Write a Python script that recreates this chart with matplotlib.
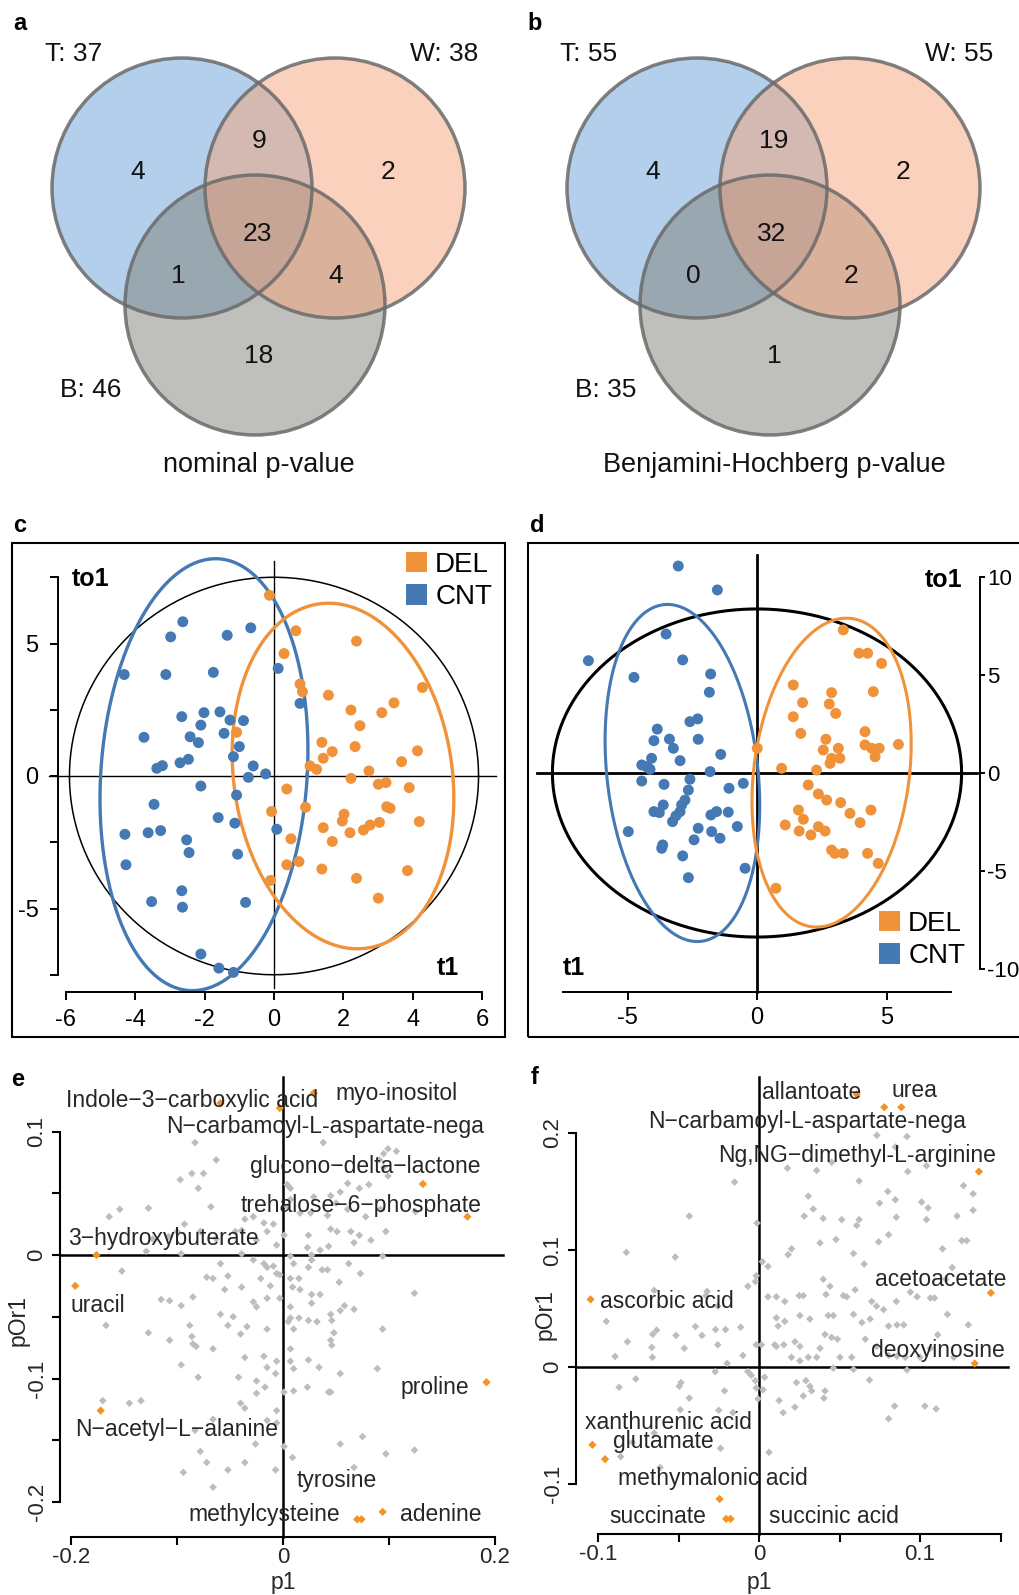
import numpy as np
import matplotlib
matplotlib.use('Agg')
import matplotlib.pyplot as plt
from matplotlib.patches import Circle, Rectangle, Patch

plt.rcParams['font.family'] = ['Liberation Sans', 'DejaVu Sans']
plt.rcParams['axes.unicode_minus'] = False

W, H = 1019, 1595

# ---------------- data ----------------
# Venn diagrams (T, W, B)
venn_a_totals = [37, 38, 46]
venn_a_counts = {'T': 4, 'W': 2, 'B': 18, 'TW': 9, 'TB': 1, 'WB': 4, 'TWB': 23}
venn_b_totals = [55, 55, 35]
venn_b_counts = {'T': 4, 'W': 2, 'B': 1, 'TW': 19, 'TB': 0, 'WB': 2, 'TWB': 32}

# panel c scores (t1, to1)
c_cnt = [(-2.63, 5.82), (-2.98, 5.25), (-1.35, 5.31), (-0.67, 5.59), (-4.32, 3.83), (-3.12, 3.83),
         (-1.75, 3.91), (0.12, 4.06), (0.75, 2.74), (-2.66, 2.24), (-2.02, 2.39), (-1.56, 2.42),
         (-2.11, 1.92), (-1.27, 2.11), (-0.88, 2.09), (-3.75, 1.46), (-2.42, 1.48), (-2.18, 1.26),
         (-1.44, 1.61), (-1.00, 1.11), (-1.17, 0.73), (-0.60, 0.38), (-0.74, -0.05), (-0.24, 0.08),
         (-3.38, 0.29), (-3.22, 0.39), (-2.71, 0.50), (-2.47, 0.63), (-2.11, -0.38), (-1.08, -0.72),
         (-3.46, -1.07), (-1.61, -1.57), (-1.13, -1.78), (0.08, -2.01), (-4.30, -2.20), (-3.63, -2.14),
         (-3.27, -2.06), (-2.52, -2.41), (-2.45, -2.89), (-1.05, -2.95), (-4.27, -3.35), (-2.66, -4.33),
         (-3.53, -4.74), (-2.64, -4.95), (-0.82, -4.77), (-2.11, -6.72), (-1.59, -7.25), (-1.17, -7.41)]
c_del = [(-0.13, 6.82), (0.63, 5.48), (0.29, 4.62), (2.38, 5.09), (0.75, 3.47), (0.82, 3.18),
         (1.57, 3.05), (4.28, 3.34), (2.22, 2.49), (3.11, 2.39), (3.46, 2.76), (2.48, 1.90),
         (-1.08, 1.65), (1.38, 1.27), (2.34, 1.11), (4.14, 0.95), (1.68, 0.92), (1.42, 0.67),
         (3.68, 0.54), (1.04, 0.38), (1.23, 0.25), (2.74, 0.19), (2.22, -0.09), (3.01, -0.31),
         (3.23, -0.25), (3.90, -0.44), (0.37, -0.49), (0.91, -1.18), (-0.07, -1.34), (3.25, -1.16),
         (3.35, -1.22), (2.02, -1.44), (1.97, -1.70), (1.42, -1.95), (2.19, -2.14), (2.58, -2.04),
         (2.77, -1.85), (3.04, -1.75), (4.19, -1.72), (0.49, -2.37), (1.68, -2.47), (0.37, -3.35),
         (0.72, -3.23), (1.38, -3.51), (2.38, -3.86), (3.85, -3.57), (-0.10, -3.94), (3.01, -4.61)]
# ellipses: centre x, centre y, half width, half height, shear
c_ell_cnt = (-2.02, 0.05, 2.98, 8.15, 0.335)
c_ell_del = (1.99, 0.0, 3.17, 6.52, -0.415)
c_t2 = (0.0, 0.0, 5.9, 7.5, 0.0)

# panel d scores
d_cnt = [(-3.04, 10.56), (-1.53, 9.34), (-6.51, 5.73), (-3.51, 7.09), (-2.87, 5.77), (-4.75, 4.88),
         (-1.79, 5.05), (-1.84, 4.12), (-2.59, 2.62), (-2.29, 2.76), (-3.85, 2.24), (-3.98, 1.65),
         (-3.38, 1.73), (-3.23, 1.26), (-2.27, 1.72), (-1.40, 0.95), (-2.97, 0.63), (-4.45, 0.41),
         (-4.26, 0.32), (-4.07, 0.75), (-4.13, 0.19), (-1.81, 0.07), (-4.45, -0.41), (-3.59, -0.58),
         (-2.59, -0.32), (-2.65, -0.87), (-0.53, -0.53), (-1.08, -0.78), (-2.78, -1.38), (-2.91, -1.63),
         (-3.62, -1.63), (-3.98, -1.97), (-3.77, -2.02), (-2.97, -1.97), (-3.13, -2.19), (-3.26, -2.48),
         (-1.78, -2.14), (-1.56, -1.97), (-1.11, -2.00), (-2.27, -2.82), (-1.75, -2.99), (-1.43, -3.33),
         (-0.76, -2.73), (-4.97, -2.99), (-2.43, -3.41), (-3.64, -3.67), (-3.68, -3.84), (-2.87, -4.23),
         (-0.46, -4.86), (-2.65, -5.34)]
d_del = [(3.33, 7.30), (3.94, 6.11), (4.27, 6.11), (4.81, 5.59), (1.40, 4.49), (2.88, 4.10),
         (1.76, 3.59), (2.79, 3.52), (3.04, 3.04), (4.49, 4.15), (1.40, 2.87), (1.69, 2.02),
         (4.17, 2.11), (4.17, 1.43), (2.66, 1.72), (2.56, 1.17), (3.14, 1.26), (2.88, 0.75),
         (3.20, 0.75), (2.82, 0.49), (4.43, 1.26), (4.72, 1.26), (4.56, 0.83), (5.46, 1.46),
         (0.01, 1.26), (0.95, 0.24), (2.30, 0.15), (1.98, -0.61), (2.37, -1.07), (2.69, -1.38),
         (3.23, -1.51), (3.59, -2.06), (3.98, -2.53), (4.40, -1.89), (1.60, -1.89), (1.79, -2.36),
         (1.09, -2.65), (1.63, -2.96), (2.08, -3.16), (2.37, -2.74), (2.63, -2.96), (2.88, -3.93),
         (3.01, -4.10), (3.33, -4.10), (4.27, -4.10), (4.68, -4.61), (0.73, -5.88)]
d_ell_cnt = (-2.88, 0.0, 2.93, 8.6, -0.575)
d_ell_del = (2.88, 0.02, 3.02, 7.88, 0.575)
d_t2 = (0.0, 0.0, 7.9, 8.37, 0.0)

# panel e loadings (p1, pOr1)
e_gray = [(-0.083, 0.091), (-0.063, 0.077), (-0.097, 0.061), (-0.086, 0.066), (-0.075, 0.066), (-0.080, 0.054),
          (-0.127, 0.038), (-0.068, 0.039), (0.038, 0.091), (0.099, 0.086), (0.107, 0.084), (0.095, 0.082),
          (0.091, 0.077), (0.095, 0.071), (0.099, 0.064), (0.061, 0.058), (0.072, 0.054), (0.081, 0.057),
          (0.054, 0.051), (0.007, 0.054), (0.004, 0.057), (0.029, 0.047), (0.045, 0.048), (0.050, 0.042),
          (0.007, 0.045), (0.004, 0.039), (0.016, 0.034), (0.026, 0.034), (0.042, 0.032), (0.061, 0.037),
          (0.078, 0.031), (0.125, 0.035), (0.092, 0.037), (-0.028, 0.031), (-0.036, 0.029), (-0.018, 0.026),
          (-0.009, 0.025), (-0.093, 0.025), (-0.015, 0.019), (-0.025, 0.012), (0.001, 0.016), (0.024, 0.016),
          (0.045, 0.021), (0.051, 0.019), (0.064, 0.019), (0.072, 0.016), (0.083, 0.012), (0.097, 0.019),
          (0.067, 0.010), (0.043, 0.007), (0.035, 0.004), (0.023, 0.006), (-0.006, 0.008), (-0.039, 0.020),
          (-0.045, 0.019), (-0.063, 0.013), (-0.078, 0.019), (-0.100, 0.019), (-0.108, 0.015), (-0.123, 0.013),
          (-0.129, 0.003), (-0.164, 0.031), (-0.154, 0.037), (-0.096, 0.001), (-0.039, 0.001), (0.094, -0.001),
          (0.027, 0.0), (0.007, -0.001), (0.010, -0.007), (-0.028, -0.004), (-0.018, -0.007), (-0.015, -0.010),
          (-0.009, -0.009), (-0.006, -0.015), (-0.021, -0.019), (-0.012, -0.025), (-0.003, -0.016), (0.007, -0.019),
          (0.015, -0.019), (0.024, -0.010), (0.027, -0.004), (0.037, -0.012), (0.042, -0.012), (0.053, -0.022),
          (0.073, -0.015), (0.062, -0.007), (-0.072, -0.018), (-0.066, -0.019), (-0.052, -0.017), (-0.059, -0.007),
          (-0.152, -0.013), (-0.115, -0.036), (-0.107, -0.037), (-0.096, -0.041), (-0.085, -0.034), (-0.055, -0.028),
          (-0.039, -0.026), (-0.028, -0.038), (-0.025, -0.042), (-0.015, -0.035), (-0.003, -0.035), (0.009, -0.026),
          (0.016, -0.028), (0.027, -0.032), (0.035, -0.032), (0.027, -0.039), (0.058, -0.041), (0.067, -0.044),
          (0.124, -0.031), (0.007, -0.042), (0.007, -0.051), (0.015, -0.051), (0.024, -0.053), (0.032, -0.054),
          (0.045, -0.048), (0.046, -0.053), (0.054, -0.045), (0.010, -0.060), (0.005, -0.054), (-0.015, -0.060),
          (-0.034, -0.058), (-0.040, -0.064), (-0.047, -0.050), (-0.059, -0.048), (-0.052, -0.057), (-0.088, -0.057),
          (-0.086, -0.066), (-0.085, -0.072), (-0.107, -0.069), (-0.127, -0.063), (-0.167, -0.057), (-0.096, -0.089),
          (-0.082, -0.074), (-0.066, -0.076), (-0.036, -0.083), (-0.018, -0.082), (-0.015, -0.091), (-0.006, -0.086),
          (-0.007, -0.096), (0.007, -0.086), (0.010, -0.092), (0.007, -0.076), (0.024, -0.085), (0.034, -0.091),
          (0.045, -0.069), (0.046, -0.073), (0.048, -0.063), (0.089, -0.092), (0.094, -0.060), (-0.080, -0.099),
          (-0.042, -0.099), (-0.025, -0.102), (-0.017, -0.107), (-0.025, -0.112), (0.001, -0.111), (0.010, -0.110),
          (0.023, -0.107), (0.045, -0.111), (0.054, -0.096), (-0.040, -0.120), (-0.036, -0.124), (-0.006, -0.126),
          (-0.006, -0.136), (-0.066, -0.133), (-0.083, -0.142), (-0.078, -0.159), (-0.072, -0.168), (-0.036, -0.168),
          (-0.052, -0.174), (-0.094, -0.176), (-0.066, -0.188), (-0.026, -0.153), (-0.015, -0.134), (0.001, -0.155),
          (0.009, -0.164), (-0.007, -0.174), (0.054, -0.153), (0.075, -0.147), (0.067, -0.172), (0.097, -0.161),
          (0.124, -0.158), (-0.170, -0.118), (-0.145, -0.120), (-0.134, -0.118), (0.043, -0.111)]
e_names = ['Indole\u22123\u2212carboxylic acid', 'N\u2212carbamoyl-L-aspartate-nega', 'myo-inositol',
           'glucono\u2212delta\u2212lactone', 'trehalose\u22126\u2212phosphate', '3\u2212hydroxybuterate',
           'uracil', 'proline', 'N\u2212acetyl\u2212L\u2212alanine', 'methylcysteine', 'tyrosine', 'adenine']
e_hit_x = [-0.059, -0.003, 0.029, 0.132, 0.174, -0.176, -0.196, 0.192, -0.172, 0.070, 0.074, 0.094]
e_hit_y = [0.123, 0.119, 0.131, 0.0575, 0.031, 0.0, -0.025, -0.103, -0.126, -0.214, -0.214, -0.208]
e_label_xy = [(-0.086, 0.1255), (0.040, 0.104), (0.107, 0.131), (0.078, 0.0715), (0.074, 0.0403),
              (-0.113, 0.0131), (-0.175, -0.041), (0.143, -0.107), (-0.1005, -0.141), (-0.018, -0.210),
              (0.051, -0.1825), (0.149, -0.210)]

# panel f loadings
f_gray = [(0.0732, 0.198), (0.0919, 0.197), (0.0451, 0.175), (0.0847, 0.188), (0.0924, 0.167), (0.104, 0.172),
          (0.0177, 0.170), (0.0358, 0.168), (-0.0152, 0.158), (0.0622, 0.159), (0.0306, 0.146), (0.080, 0.150),
          (0.0749, 0.140), (0.0847, 0.143), (0.101, 0.141), (0.105, 0.136), (0.127, 0.155), (0.133, 0.148),
          (0.133, 0.134), (0.123, 0.129), (0.104, 0.126), (0.0853, 0.128), (0.0337, 0.135), (0.0281, 0.129),
          (0.0399, 0.127), (-0.0433, 0.129), (0.0514, 0.126), (0.0622, 0.126), (0.0607, 0.121), (-0.0012, 0.123),
          (0.0805, 0.113), (0.0743, 0.107), (0.0478, 0.109), (0.0379, 0.106), (0.0587, 0.097), (0.0653, 0.088),
          (0.0202, 0.101), (0.0181, 0.096), (0.114, 0.101), (0.126, 0.108), (0.129, 0.108), (-0.0824, 0.098),
          (-0.052, 0.094), (0.0021, 0.090), (0.0056, 0.086), (-0.0017, 0.078), (-0.0023, 0.073), (-0.0069, 0.069),
          (0.120, 0.085), (0.116, 0.075), (0.0399, 0.075), (0.0441, 0.069), (0.0597, 0.066), (0.094, 0.064),
          (0.0982, 0.060), (0.1065, 0.059), (0.109, 0.059), (-0.0651, 0.0655), (-0.0322, 0.0646), (-0.0256, 0.052),
          (-0.0329, 0.061), (0.0056, 0.060), (0.0108, 0.060), (0.016, 0.056), (0.025, 0.061), (0.0275, 0.061),
          (0.0416, 0.062), (0.0524, 0.061), (0.0545, 0.060), (0.070, 0.056), (0.073, 0.052), (0.0774, 0.049),
          (0.0853, 0.056), (0.0587, 0.045), (0.0462, 0.044), (0.043, 0.044), (0.0254, 0.044), (0.0108, 0.042),
          (0.016, 0.039), (0.0119, 0.035), (0.0316, 0.041), (0.0639, 0.038), (0.069, 0.041), (0.0805, 0.035),
          (0.0857, 0.036), (0.0899, 0.036), (0.117, 0.045), (0.130, 0.036), (0.111, 0.0275), (-0.0948, 0.039),
          (-0.066, 0.028), (-0.0636, 0.0315), (-0.0395, 0.0346), (-0.0354, 0.027), (-0.027, 0.032), (-0.0208, 0.032),
          (-0.0114, 0.034), (-0.0516, 0.027), (-0.0464, 0.016), (-0.0817, 0.0216), (-0.0894, 0.009), (-0.0666, 0.0167),
          (-0.0662, 0.0083), (-0.0256, 0.019), (-0.0017, 0.019), (0.0015, 0.019), (0.0098, 0.019), (0.0108, 0.0176),
          (0.0154, 0.019), (0.0223, 0.0216), (0.0254, 0.0176), (0.0202, 0.0083), (0.0254, 0.0053), (0.0306, 0.0083),
          (0.0358, 0.0083), (0.0379, 0.016), (0.041, 0.0278), (0.0451, 0.0253), (0.0487, 0.0238), (0.0503, 0.0083),
          (0.0576, 0.0083), (0.0587, -0.002), (0.0462, -0.001), (0.066, 0.0238), (0.0732, 0.0176), (0.0805, 0.0099),
          (0.0857, 0.0093), (0.0919, -0.0025), (0.0909, 0.0083), (0.100, 0.0083), (0.1065, 0.016), (0.121, 0.0083),
          (-0.010, 0.0099), (-0.0069, -0.004), (-0.0048, -0.0071), (-0.0023, -0.0117), (0.0035, -0.0087),
          (-0.0017, -0.0179), (0.0025, -0.0195), (-0.0006, -0.0272), (-0.0272, -0.004), (-0.0198, 0.0031),
          (-0.0214, -0.0204), (-0.0485, -0.0133), (-0.0495, -0.0164), (-0.0433, -0.0266), (-0.0765, -0.0102),
          (-0.0869, -0.0173), (-0.0489, -0.0365), (-0.025, -0.037), (-0.0162, -0.039), (0.0125, -0.0287),
          (0.015, -0.039), (0.0223, -0.0343), (0.0233, -0.0133), (0.0275, -0.0247), (0.0316, -0.0164),
          (0.0291, -0.0117), (0.0327, -0.0204), (0.041, -0.0204), (0.0403, -0.0266), (0.0686, -0.0111),
          (0.0805, -0.0442), (0.0842, -0.0334), (0.103, -0.0334), (0.110, -0.0358), (-0.0786, -0.0643),
          (-0.0859, -0.0766), (-0.0651, -0.0565), (-0.0614, -0.0859), (-0.0239, -0.0695), (0.0062, -0.0729)]
f_names = ['allantoate', 'urea', 'N\u2212carbamoyl-L-aspartate-nega', 'Ng,NG\u2212dimethyl-L-arginine',
           'acetoacetate', 'deoxyinosine', 'ascorbic acid', 'xanthurenic acid', 'glutamate',
           'methymalonic acid', 'succinate', 'succinic acid']
f_hit_x = [0.0607, 0.0884, 0.0778, 0.1366, 0.144, 0.134, -0.1046, -0.1035, -0.0956, -0.0245, -0.0204, -0.0177]
f_hit_y = [0.233, 0.222, 0.222, 0.167, 0.0634, 0.003, 0.0578, -0.0665, -0.0788, -0.1128, -0.1298, -0.1298]
f_label_xy = [(0.0326, 0.235), (0.0965, 0.236), (0.0297, 0.210), (0.0609, 0.181), (0.113, 0.0748),
              (0.111, 0.0145), (-0.0574, 0.0563), (-0.0565, -0.0473), (-0.0593, -0.0637), (-0.0287, -0.0952),
              (-0.0628, -0.1277), (0.0464, -0.1277)]

# ---------------- styles ----------------
ORANGE = '#F0923A'
BLUE = '#4479B3'
HIT = '#F39322'
GRAY = '#BDBDBD'
TXT = '#262626'

fig = plt.figure(figsize=(W / 100, H / 100), dpi=100)


def fx(x):
    return x / W


def fy(y):
    return 1 - y / H


def axes_px(L, T, R, B):
    return fig.add_axes([L / W, 1 - B / H, (R - L) / W, (B - T) / H])


def fit(ax, box, x0, sx, y0, sy):
    L, T, R, B = box
    ax.set_xlim((L - x0) / sx, (R - x0) / sx)
    ax.set_ylim((y0 - B) / sy, (y0 - T) / sy)


def ellipse_line(ax, p, color, lw):
    cx, cy, a, b, sh = p
    t = np.linspace(0, 2 * np.pi, 300)
    ax.plot(cx + a * np.cos(t) + sh * np.sin(t), cy + b * np.sin(t), color=color, lw=lw)


def fmt(v):
    return f'{v:g}'


# ---------------- Venn panels ----------------
circ_xy = [(182, 188), (335, 188), (255, 305)]
circ_r = 130
circ_fill = ['#69A1D9', '#F5A57D', '#818179']
draw_order = [0, 2, 1]          # blue, grey, then orange on top
region_xy = {'T': (138, 172), 'TW': (259, 141), 'W': (388, 172), 'TWB': (257, 234),
             'TB': (178, 276), 'WB': (336, 276), 'B': (259, 356)}
set_xy = [(74, 54), (444, 54), (91, 390)]


def venn(off, letter, totals, counts, title):
    ax = axes_px(off, 0, off + 510, 485)
    ax.set_xlim(0, 510)
    ax.set_ylim(485, 0)
    ax.set_axis_off()
    for i in draw_order:
        ax.add_patch(Circle(circ_xy[i], circ_r, facecolor=circ_fill[i], alpha=0.5, edgecolor='none'))
    for (cx, cy) in circ_xy:
        ax.add_patch(Circle((cx, cy), circ_r, fill=False, edgecolor='#6A6A6A', alpha=0.85, lw=2.5))
    for k, v in counts.items():
        ax.text(*region_xy[k], str(v), ha='center', va='center', fontsize=19, color='#111111')
    for name, (x, y), n in zip(['T', 'W', 'B'], set_xy, totals):
        ax.text(x, y, f'{name}: {n}', ha='center', va='center', fontsize=19, color='#111111')
    ax.text(259, 465, title, ha='center', va='center', fontsize=19.5, color='#111111')
    fig.text(fx(off + 20), fy(24), letter, fontsize=17, fontweight='bold', ha='center', va='center')


venn(0, 'a', venn_a_totals, venn_a_counts, 'nominal p-value')
venn(515, 'b', venn_b_totals, venn_b_counts, 'Benjamini-Hochberg p-value')


# ---------------- score plots ----------------
def score_style(ax):
    for s in ax.spines.values():
        s.set_visible(False)
    ax.tick_params(labelsize=17, width=1.4, length=6, colors='black')


def group_legend(ax, left, top):
    ax.legend(handles=[Patch(facecolor=ORANGE, label='DEL'), Patch(facecolor=BLUE, label='CNT')],
              loc='upper left', bbox_to_anchor=(fx(left), fy(top)), bbox_transform=fig.transFigure,
              frameon=False, fontsize=20, handlelength=0.75, handleheight=0.75, handletextpad=0.3,
              labelspacing=0.22, borderpad=0, borderaxespad=0)


# panel c
box_c = (12, 543, 505, 1037)
axc = axes_px(*box_c)
fit(axc, box_c, 274, 34.67, 776, 26.5)
score_style(axc)
axc.add_patch(Rectangle((0, 0), 1, 1, transform=axc.transAxes, fill=False, lw=1.5, clip_on=False))
axc.spines['left'].set_visible(True)
axc.spines['bottom'].set_visible(True)
for s in ('left', 'bottom'):
    axc.spines[s].set_linewidth(1.4)
axc.spines['left'].set_position(('data', (58 - 274) / 34.67))
axc.spines['left'].set_bounds(-7.5, 7.5)
axc.spines['bottom'].set_position(('data', (776 - 992) / 26.5))
axc.spines['bottom'].set_bounds(-6, 6)
xt = [-6, -4, -2, 0, 2, 4, 6]
axc.set_xticks(xt, [fmt(v) for v in xt])
axc.set_yticks([-5, 0, 5], ['-5', '0', '5'])
axc.set_yticks([-7.5, -2.5, 2.5, 7.5], minor=True)
axc.tick_params(which='minor', width=1.4, length=6)
axc.tick_params(axis='x', pad=6)
axc.tick_params(axis='y', pad=8)
axc.plot([0, 0], [-8.0, 8.1], color='black', lw=1.0)
axc.plot([-6.5, 6.4], [0, 0], color='black', lw=1.0)
ellipse_line(axc, c_t2, 'black', 1.1)
cc = np.array(c_cnt)
cd = np.array(c_del)
axc.scatter(cc[:, 0], cc[:, 1], s=62, color=BLUE, edgecolors='none', zorder=3)
axc.scatter(cd[:, 0], cd[:, 1], s=62, color=ORANGE, edgecolors='none', zorder=3)
ellipse_line(axc, c_ell_cnt, BLUE, 2.4)
ellipse_line(axc, c_ell_del, ORANGE, 2.4)
group_legend(axc, 406, 552)
fig.text(fx(72), fy(579), 'to1', fontsize=18, fontweight='bold', ha='left', va='center')
fig.text(fx(448), fy(968), 't1', fontsize=18, fontweight='bold', ha='center', va='center')
fig.text(fx(20), fy(525), 'c', fontsize=17, fontweight='bold', ha='center', va='center')

# panel d
box_d = (528, 543, 1019, 1037)
axd = axes_px(*box_d)
fit(axd, box_d, 757, 25.9, 773, 19.6)
score_style(axd)
axd.add_patch(Rectangle((0, 0), 1.3, 1, transform=axd.transAxes, fill=False, lw=1.5, clip_on=False))
axd.spines['right'].set_visible(True)
axd.spines['bottom'].set_visible(True)
for s in ('right', 'bottom'):
    axd.spines[s].set_linewidth(1.4)
axd.spines['right'].set_position(('data', (980 - 757) / 25.9))
axd.spines['right'].set_bounds(-10, 10)
axd.spines['bottom'].set_position(('data', (773 - 992) / 19.6))
axd.spines['bottom'].set_bounds(-7.5, 7.5)
axd.yaxis.tick_right()
axd.set_xticks([-5, 0, 5], ['-5', '0', '5'])
yt = [-10, -5, 0, 5, 10]
axd.set_yticks(yt, [fmt(v) for v in yt])
axd.tick_params(axis='x', pad=5)
axd.tick_params(axis='y', pad=1.5, length=3.5, labelsize=16)
axd.plot([0, 0], [11.1, (773 - 992) / 19.6], color='black', lw=2.0)
axd.plot([-8.5, 8.5], [0, 0], color='black', lw=2.0)
ellipse_line(axd, d_t2, 'black', 2.2)
dc = np.array(d_cnt)
dd = np.array(d_del)
axd.scatter(dc[:, 0], dc[:, 1], s=62, color=BLUE, edgecolors='none', zorder=3)
axd.scatter(dd[:, 0], dd[:, 1], s=62, color=ORANGE, edgecolors='none', zorder=3)
ellipse_line(axd, d_ell_cnt, BLUE, 2.2)
ellipse_line(axd, d_ell_del, ORANGE, 2.2)
group_legend(axd, 879, 911)
fig.text(fx(962), fy(580), 'to1', fontsize=18, fontweight='bold', ha='right', va='center')
fig.text(fx(563), fy(968), 't1', fontsize=18, fontweight='bold', ha='left', va='center')
fig.text(fx(537), fy(525), 'd', fontsize=17, fontweight='bold', ha='center', va='center')


# ---------------- loading plots ----------------
def loading(box, x0, sx, y0, sy, spine_x, spine_y, ybounds, xbounds, yt_lab, yt_min, xt_lab, xt_min,
            vline, hline, gray, names, hx, hy, lab_xy):
    ax = axes_px(*box)
    fit(ax, box, x0, sx, y0, sy)
    for s in ('top', 'right'):
        ax.spines[s].set_visible(False)
    for s in ('left', 'bottom'):
        ax.spines[s].set_linewidth(1.5)
    ax.spines['left'].set_position(('data', spine_x))
    ax.spines['left'].set_bounds(*ybounds)
    ax.spines['bottom'].set_position(('data', spine_y))
    ax.spines['bottom'].set_bounds(*xbounds)
    ax.set_yticks(yt_lab, [fmt(v) for v in yt_lab], rotation=90, va='center')
    ax.set_yticks(yt_min, minor=True)
    ax.set_xticks(xt_lab, [fmt(v) for v in xt_lab])
    ax.set_xticks(xt_min, minor=True)
    ax.tick_params(which='both', width=1.5, length=6, labelsize=16, labelcolor=TXT)
    ax.tick_params(axis='y', pad=3)
    ax.tick_params(axis='x', pad=1)
    ax.plot([0, 0], vline, color='black', lw=1.8)
    ax.plot(hline, [0, 0], color='black', lw=1.8)
    g = np.array(gray)
    ax.scatter(g[:, 0], g[:, 1], marker='D', s=15, color=GRAY, edgecolors='none', zorder=2)
    ax.scatter(hx, hy, marker='D', s=18, color=HIT, edgecolors='none', zorder=3)
    for n, (lx, ly) in zip(names, lab_xy):
        ax.text(lx, ly, n, ha='center', va='center', fontsize=16.5, color=TXT, zorder=4)
    return ax


box_e = (0, 1045, 510, 1595)
loading(box_e, 283, 1060, 1255, 1235, (60 - 283) / 1060, (1255 - 1537) / 1235, (-0.2, 0.1), (-0.2, 0.2),
        [-0.2, -0.1, 0, 0.1], [-0.15, -0.05, 0.05], [-0.2, 0, 0.2], [-0.1, 0.1],
        [0.144, (1255 - 1537) / 1235], [(60 - 283) / 1060, 0.2075],
        e_gray, e_names, e_hit_x, e_hit_y, e_label_xy)
fig.text(fx(18), fy(1320), 'pOr1', fontsize=16.5, rotation=90, ha='center', va='center', color=TXT)
fig.text(fx(283), fy(1582), 'p1', fontsize=16.5, ha='center', va='center', color=TXT)
fig.text(fx(18), fy(1080), 'e', fontsize=17, fontweight='bold', ha='center', va='center')

box_f = (515, 1045, 1019, 1595)
loading(box_f, 759, 1610, 1367, 1170, (576 - 759) / 1610, (1367 - 1534) / 1170, (-0.1, 0.2), (-0.1, 0.15),
        [-0.1, 0, 0.1, 0.2], [], [-0.1, 0, 0.1], [-0.05, 0.05, 0.15],
        [0.248, (1367 - 1534) / 1170], [(576 - 759) / 1610, 0.1547],
        f_gray, f_names, f_hit_x, f_hit_y, f_label_xy)
fig.text(fx(545), fy(1314), 'pOr1', fontsize=16.5, rotation=90, ha='center', va='center', color=TXT)
fig.text(fx(759), fy(1582), 'p1', fontsize=16.5, ha='center', va='center', color=TXT)
fig.text(fx(535), fy(1077), 'f', fontsize=17, fontweight='bold', ha='center', va='center')

fig.savefig('out.png', dpi=100)
